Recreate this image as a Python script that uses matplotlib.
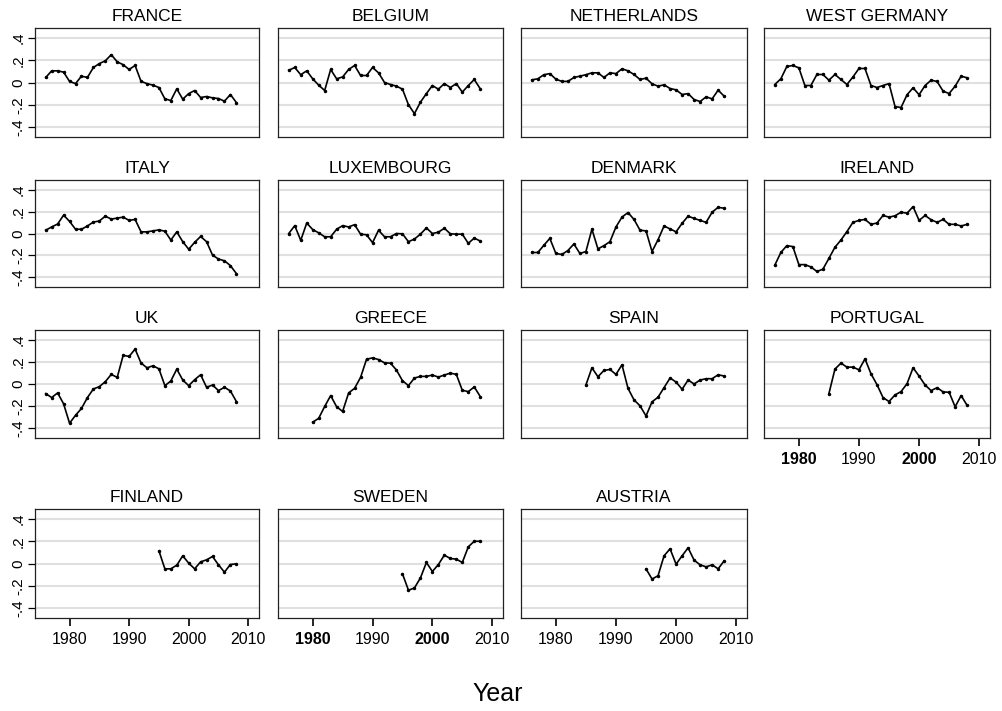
import numpy as np
import matplotlib
matplotlib.use("Agg")
import matplotlib.pyplot as plt

plt.rcParams["font.family"] = ["Liberation Sans", "DejaVu Sans"]

# values (one point per year)
france = [0.045, 0.105, 0.105, 0.093, 0.01, -0.01, 0.057, 0.045, 0.135, 0.17, 0.195,
          0.25, 0.186, 0.16, 0.117, 0.153, 0.01, -0.01, -0.024, -0.045, -0.147, -0.162,
          -0.057, -0.15, -0.10, -0.072, -0.135, -0.126, -0.138, -0.144, -0.168, -0.108, -0.18]
belgium = [0.11, 0.135, 0.07, 0.105, 0.033, -0.024, -0.072, 0.117, 0.033, 0.05, 0.117,
           0.153, 0.063, 0.063, 0.135, 0.087, 0.0, -0.018, -0.033, -0.06, -0.2, -0.28,
           -0.177, -0.10, -0.027, -0.06, -0.01, -0.045, -0.01, -0.087, -0.027, 0.027, -0.057]
netherlands = [0.024, 0.033, 0.07, 0.08, 0.03, 0.01, 0.01, 0.045, 0.057, 0.07, 0.087,
               0.087, 0.045, 0.087, 0.08, 0.123, 0.105, 0.072, 0.027, 0.039, -0.012, -0.033,
               -0.021, -0.054, -0.066, -0.108, -0.1, -0.153, -0.171, -0.129, -0.147, -0.069, -0.123]
west_germany = [-0.018, 0.033, 0.144, 0.153, 0.132, -0.027, -0.027, 0.072, 0.072, 0.021, 0.072,
                0.027, -0.018, 0.05, 0.126, 0.126, -0.027, -0.045, -0.027, -0.01, -0.216, -0.225,
                -0.11, -0.048, -0.11, -0.027, 0.021, 0.009, -0.078, -0.099, -0.033, 0.057, 0.042]
italy = [0.03, 0.06, 0.087, 0.168, 0.111, 0.039, 0.039, 0.069, 0.105, 0.114, 0.159,
         0.132, 0.141, 0.15, 0.12, 0.129, 0.015, 0.015, 0.024, 0.033, 0.021, -0.06,
         0.015, -0.075, -0.144, -0.081, -0.027, -0.075, -0.198, -0.234, -0.25, -0.294, -0.367]
luxembourg = [0.0, 0.072, -0.063, 0.096, 0.036, 0.006, -0.03, -0.03, 0.039, 0.072, 0.06,
              0.081, -0.006, -0.012, -0.084, 0.03, -0.03, -0.03, 0.0, -0.003, -0.075, -0.051,
              -0.006, 0.051, 0.0, 0.012, 0.048, -0.003, -0.006, -0.006, -0.09, -0.042, -0.069]
denmark = [-0.174, -0.174, -0.108, -0.045, -0.183, -0.192, -0.156, -0.096, -0.183, -0.165, 0.039,
           -0.141, -0.111, -0.075, 0.06, 0.15, 0.192, 0.129, 0.03, 0.024, -0.165, -0.057,
           0.069, 0.042, 0.015, 0.093, 0.159, 0.138, 0.12, 0.102, 0.195, 0.24, 0.231]
ireland = [-0.29, -0.174, -0.111, -0.12, -0.285, -0.285, -0.306, -0.348, -0.327, -0.228, -0.126,
           -0.06, 0.018, 0.102, 0.12, 0.129, 0.084, 0.096, 0.165, 0.15, 0.162, 0.195,
           0.186, 0.246, 0.12, 0.165, 0.126, 0.102, 0.129, 0.084, 0.084, 0.069, 0.084]
uk = [-0.087, -0.123, -0.081, -0.18, -0.356, -0.284, -0.222, -0.123, -0.045, -0.024, 0.021,
      0.087, 0.06, 0.26, 0.25, 0.317, 0.19, 0.147, 0.165, 0.138, -0.015, 0.027,
      0.135, 0.036, -0.015, 0.039, 0.084, -0.03, -0.009, -0.06, -0.03, -0.063, -0.159]
greece = [-0.347, -0.311, -0.204, -0.105, -0.207, -0.249, -0.081, -0.039, 0.06, 0.225, 0.237,
          0.222, 0.192, 0.189, 0.126, 0.03, -0.015, 0.054, 0.069, 0.069, 0.081, 0.063,
          0.081, 0.099, 0.087, -0.057, -0.069, -0.027, -0.114]
spain = [-0.009, 0.147, 0.066, 0.123, 0.132, 0.087, 0.174, -0.039, -0.144, -0.198, -0.29,
         -0.162, -0.12, -0.033, 0.054, 0.018, -0.048, 0.036, 0.0, 0.036, 0.048, 0.048,
         0.084, 0.072]
portugal = [-0.087, 0.135, 0.189, 0.153, 0.153, 0.129, 0.228, 0.093, -0.006, -0.123, -0.159,
            -0.099, -0.069, 0.003, 0.147, 0.072, -0.009, -0.06, -0.033, -0.072, -0.075, -0.207,
            -0.105, -0.195]
finland = [0.114, -0.048, -0.048, -0.015, 0.069, 0.003, -0.048, 0.015, 0.033, 0.063, -0.012,
           -0.078, -0.009, -0.003]
sweden = [-0.093, -0.24, -0.22, -0.13, 0.009, -0.072, -0.009, 0.075, 0.045, 0.039, 0.009,
          0.15, 0.2, 0.2]
austria = [-0.048, -0.14, -0.11, 0.069, 0.132, -0.006, 0.069, 0.141, 0.03, -0.012, -0.03,
           -0.012, -0.048, 0.024]

countries = ["FRANCE", "BELGIUM", "NETHERLANDS", "WEST GERMANY",
             "ITALY", "LUXEMBOURG", "DENMARK", "IRELAND",
             "UK", "GREECE", "SPAIN", "PORTUGAL",
             "FINLAND", "SWEDEN", "AUSTRIA"]
series = [france, belgium, netherlands, west_germany,
          italy, luxembourg, denmark, ireland,
          uk, greece, spain, portugal,
          finland, sweden, austria]
first_year = [1976, 1976, 1976, 1976,
              1976, 1976, 1976, 1976,
              1976, 1980, 1985, 1985,
              1995, 1995, 1995]

y_ticks = [-0.4, -0.2, 0.0, 0.2, 0.4]
y_labels = ["-.4", "-.2", "0", ".2", ".4"]
x_ticks = [1980, 1990, 2000, 2010]

W, H = 1002, 711
col_px = [(35, 259), (278, 503), (521, 747), (764, 990)]
row_px = [(28, 137), (180, 287), (330, 438), (509, 618)]

fig = plt.figure(figsize=(W / 100, H / 100), dpi=100)

for i, (name, vals, y0) in enumerate(zip(countries, series, first_year)):
    r, c = divmod(i, 4)
    x0, x1 = col_px[c]
    t0, t1 = row_px[r]
    ax = fig.add_axes([x0 / W, 1 - t1 / H, (x1 - x0) / W, (t1 - t0) / H])
    yrs = np.arange(y0, y0 + len(vals))
    ax.plot(yrs, vals, color="black", lw=1.2, marker="o", ms=1.5, zorder=3)
    ax.set_xlim(1974.2, 2011.8)
    ax.set_ylim(-0.49, 0.49)
    ax.set_yticks(y_ticks)
    ax.grid(axis="y", color="#e0e0e0", lw=1.5)
    ax.set_axisbelow(True)
    for s in ax.spines.values():
        s.set_color("#222222")
        s.set_linewidth(0.9)
    ax.set_title(name, fontsize=12.5, pad=5)

    if c == 0:
        ax.set_yticklabels(y_labels, rotation=90, va="center", fontsize=11)
        ax.tick_params(axis="y", length=5, width=0.9, pad=2)
    else:
        ax.tick_params(axis="y", length=0, labelleft=False)

    show_x = (r == 3) or (name == "PORTUGAL")
    ax.set_xticks(x_ticks)
    if show_x:
        ax.tick_params(axis="x", length=6, width=1.2, pad=4, labelsize=11.5)
        ax.set_xticklabels([str(t) for t in x_ticks])
        if name in ("SWEDEN", "PORTUGAL"):
            for lab in ax.get_xticklabels():
                if lab.get_text() in ("1980", "2000"):
                    lab.set_fontweight("bold")
    else:
        ax.tick_params(axis="x", length=0, labelbottom=False)

fig.text(498 / W, 1 - 694 / H, "Year", fontsize=18, ha="center", va="center")

fig.savefig("out.png", dpi=100)
